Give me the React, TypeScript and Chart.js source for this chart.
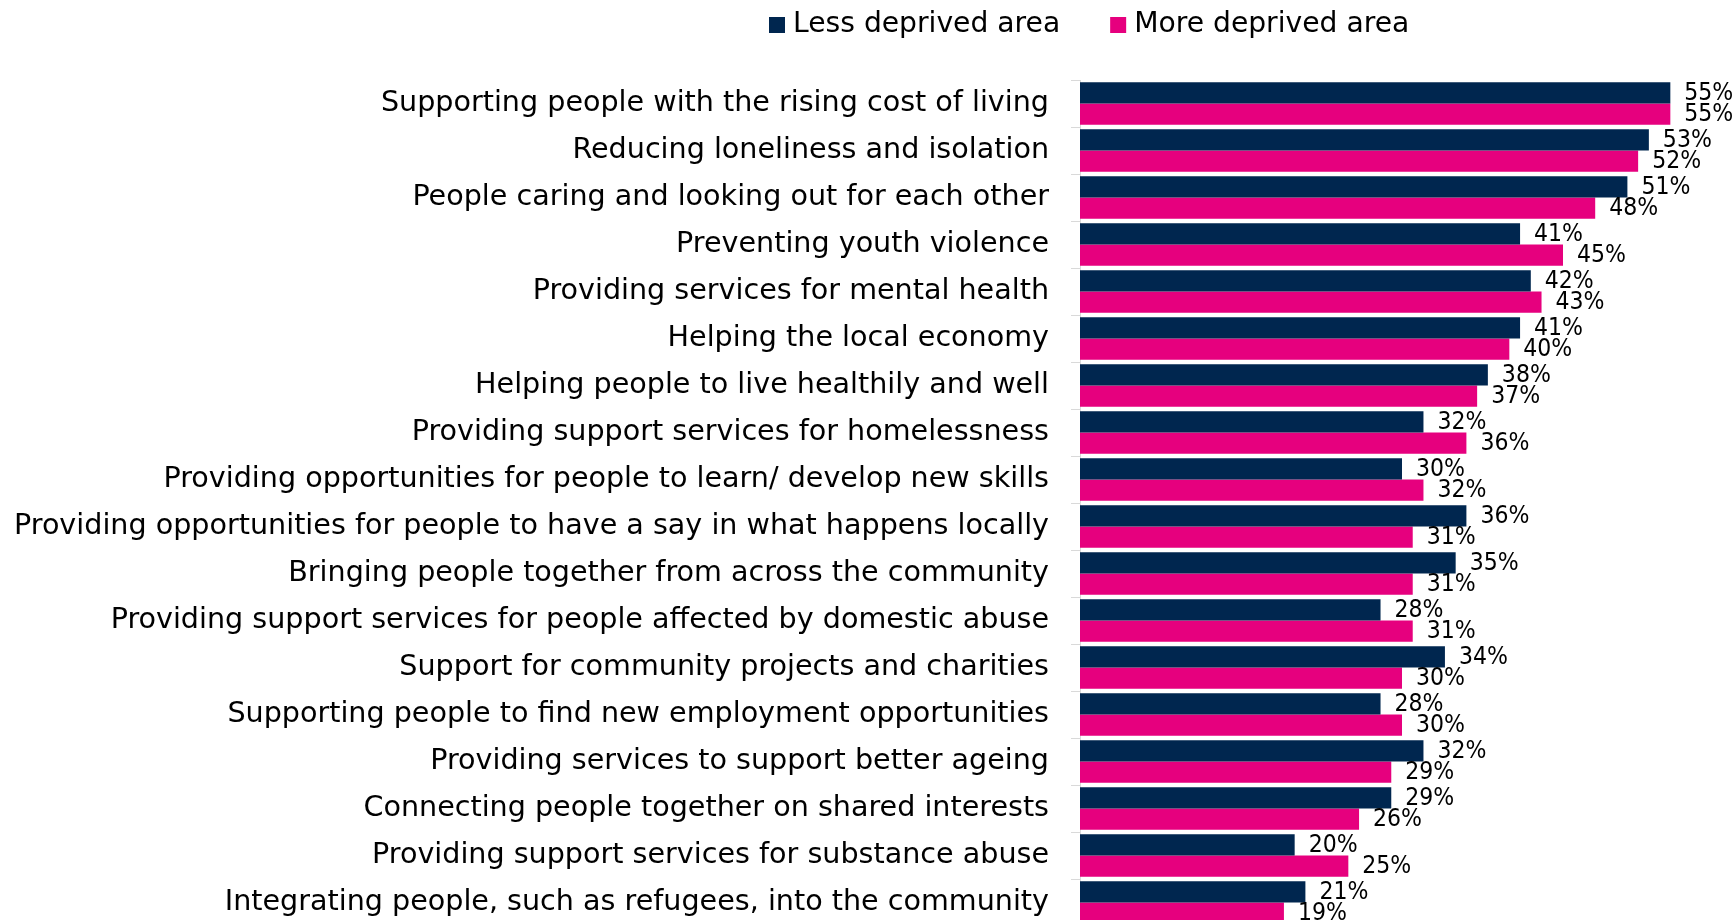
import React, { useEffect, useRef } from "react";
import { Chart, registerables } from "chart.js";

Chart.register(...registerables);

const categories = [
  "Supporting people with the rising cost of living",
  "Reducing loneliness and isolation",
  "People caring and looking out for each other",
  "Preventing youth violence",
  "Providing services for mental health",
  "Helping the local economy",
  "Helping people to live healthily and well",
  "Providing support services for homelessness",
  "Providing opportunities for people to learn/ develop new skills",
  "Providing opportunities for people to have a say in what happens locally",
  "Bringing people together from across the community",
  "Providing support services for people affected by domestic abuse",
  "Support for community projects and charities",
  "Supporting people to find new employment opportunities",
  "Providing services to support better ageing",
  "Connecting people together on shared interests",
  "Providing support services for substance abuse",
  "Integrating people, such as refugees, into the community",
];

const lessDeprived = [55, 53, 51, 41, 42, 41, 38, 32, 30, 36, 35, 28, 34, 28, 32, 29, 20, 21];
const moreDeprived = [55, 52, 48, 45, 43, 40, 37, 36, 32, 31, 31, 31, 30, 30, 29, 26, 25, 19];

const seriesNames = ["Less deprived area", "More deprived area"];
const seriesColors = ["#00264F", "#E6007E"];

const FONT = '"DejaVu Sans", sans-serif';
const FONT_COND = '"DejaVu Sans Condensed", "DejaVu Sans", sans-serif';

const valueLabels = {
  id: "valueLabels",
  afterDatasetsDraw(chart: any) {
    const ctx = chart.ctx;
    ctx.save();
    ctx.font = `24.5px ${FONT_COND}`;
    ctx.fillStyle = "#000";
    ctx.textBaseline = "middle";
    ctx.textAlign = "left";
    chart.data.datasets.forEach((ds: any, i: number) => {
      const meta = chart.getDatasetMeta(i);
      meta.data.forEach((bar: any, j: number) => {
        ctx.fillText(ds.data[j] + "%", bar.x + 14, bar.y + 1);
      });
    });
    ctx.restore();
  },
};

const customLegend = {
  id: "customLegend",
  afterDraw(chart: any) {
    const ctx = chart.ctx;
    ctx.save();
    ctx.font = `28.2px ${FONT}`;
    ctx.textBaseline = "alphabetic";
    ctx.textAlign = "left";
    let x = 769;
    chart.data.datasets.forEach((ds: any) => {
      ctx.fillStyle = ds.backgroundColor;
      ctx.fillRect(x, 17, 16, 16);
      ctx.fillStyle = "#000";
      ctx.fillText(ds.label, x + 24, 32);
      x += 24 + ctx.measureText(ds.label).width + 50;
    });
    ctx.restore();
  },
};

export default function App() {
  const ref = useRef<HTMLCanvasElement>(null);
  useEffect(() => {
    if (!ref.current) return;
    const chart = new Chart(ref.current, {
      type: "bar",
      data: {
        labels: categories,
        datasets: [
          { label: seriesNames[0], data: lessDeprived, backgroundColor: seriesColors[0] },
          { label: seriesNames[1], data: moreDeprived, backgroundColor: seriesColors[1] },
        ],
      },
      options: {
        indexAxis: "y",
        responsive: false,
        animation: false,
        devicePixelRatio: 1,
        layout: { padding: { top: 80, bottom: 4, left: 0, right: 8 } },
        datasets: { bar: { categoryPercentage: 0.9, barPercentage: 1 } },
        plugins: { legend: { display: false }, tooltip: { enabled: false } },
        scales: {
          x: { display: false, min: 0, max: 60 },
          y: {
            afterFit(scale: any) {
              scale.width = 1080;
              scale.paddingTop = 0;
              scale.paddingBottom = 0;
            },
            grid: { drawOnChartArea: false, drawTicks: true, tickLength: 9, color: "#D9D9D9" },
            border: { display: true, color: "#D9D9D9", width: 1 },
            ticks: { color: "#000", padding: 22, font: { family: FONT, size: 28.6 }, autoSkip: false },
          },
        },
      },
      plugins: [valueLabels, customLegend],
    } as any);
    return () => chart.destroy();
  }, []);
  return (
    <div style={{ position: "fixed", left: 0, top: 0, width: 1732, height: 920, overflow: "hidden", background: "#fff" }}>
      <canvas ref={ref} width={1732} height={930} style={{ display: "block" }} />
    </div>
  );
}
